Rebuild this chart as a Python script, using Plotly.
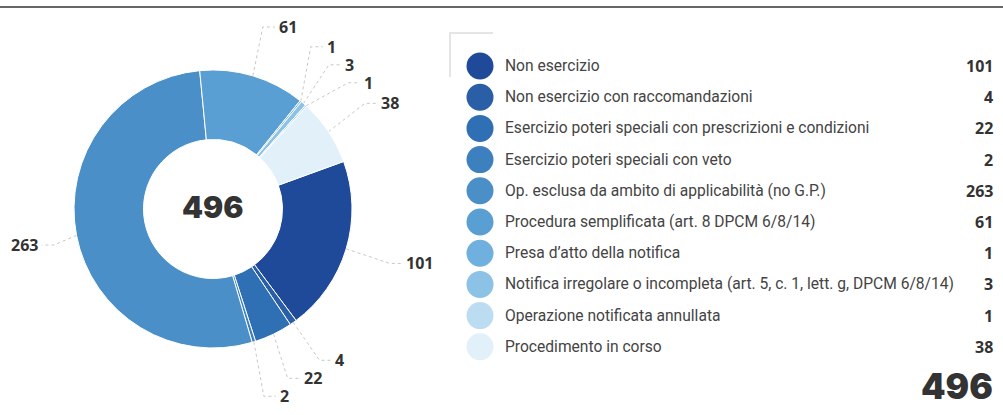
import math
import plotly.graph_objects as go

# ---------------- data ----------------
categories = [
    "Non esercizio",
    "Non esercizio con raccomandazioni",
    "Esercizio poteri speciali con prescrizioni e condizioni",
    "Esercizio poteri speciali con veto",
    "Op. esclusa da ambito di applicabilità (no G.P.)",
    "Procedura semplificata (art. 8 DPCM 6/8/14)",
    "Presa d’atto della notifica",
    "Notifica irregolare o incompleta (art. 5, c. 1, lett. g, DPCM 6/8/14)",
    "Operazione notificata annullata",
    "Procedimento in corso",
]
values = [101, 4, 22, 2, 263, 61, 1, 3, 1, 38]
colors = ["#1f4a99", "#2a5fa8", "#2e70b3", "#3d80bf", "#4a8fc8",
          "#5a9fd3", "#6fb0de", "#8cc2e6", "#bcdcf1", "#e2f0fa"]

# ---------------- layout constants (pixels) ----------------
W, H = 1003, 415
CX, CY, R = 213, 209, 139
ROT = 70          # start angle of first slice, clockwise from 12 o'clock
RY = 190          # radius used for the ideal label height
RX = 185          # radius of the circle the connector elbows lie on
GAP = 18          # min vertical distance between labels
ROW0, ROWSTEP = 66, 31.2
TEXT_FONT = "Roboto"
NUM_FONT = "Open Sans"
HEAVY_FONT = "Inter"

total = sum(values)

fig = go.Figure()

fig.add_trace(go.Pie(
    values=values, labels=categories, sort=False, direction="clockwise",
    rotation=ROT, hole=0.5, textinfo="none", hoverinfo="label+value",
    marker=dict(colors=colors, line=dict(color="white", width=1)),
    domain=dict(x=[(CX - R) / W, (CX + R) / W], y=[1 - (CY + R) / H, 1 - (CY - R) / H]),
    showlegend=False,
))

# ---------- outside labels with connectors (computed from values) ----------
mids = []
cum = 0
for v in values:
    mids.append(math.radians(ROT + (cum + v / 2) / total * 360))
    cum += v


def distribute(items, gap, ymin, ymax):
    items = sorted(items, key=lambda t: t[1])
    cl = [{"m": [i], "ideal": [y], "top": y} for i, y in items]
    changed = True
    while changed:
        changed = False
        for k in range(len(cl) - 1):
            a, b = cl[k], cl[k + 1]
            a_bottom = a["top"] + gap * (len(a["m"]) - 1)
            if b["top"] < a_bottom + gap:
                m = a["m"] + b["m"]
                ideal = a["ideal"] + b["ideal"]
                n = len(m)
                top = sum(ideal[j] - gap * j for j in range(n)) / n
                top = max(ymin, min(top, ymax - gap * (n - 1)))
                cl[k] = {"m": m, "ideal": ideal, "top": top}
                del cl[k + 1]
                changed = True
                break
    pos = {}
    for c in cl:
        top = max(ymin, min(c["top"], ymax - gap * (len(c["m"]) - 1)))
        for j, idx in enumerate(c["m"]):
            pos[idx] = top + gap * j
    return pos


right = [(i, CY - RY * math.cos(a)) for i, a in enumerate(mids) if math.sin(a) >= 0]
left = [(i, CY - RY * math.cos(a)) for i, a in enumerate(mids) if math.sin(a) < 0]
ypos = {}
ypos.update(distribute(right, GAP, 22, 398))
ypos.update(distribute(left, GAP, 22, 398))

annotations = []
for i, a in enumerate(mids):
    side = 1 if math.sin(a) >= 0 else -1
    y = ypos[i]
    dy = y - CY
    xo = math.sqrt(max(RX ** 2 - dy ** 2, 0))
    xo = max(xo, R * abs(math.sin(a)) + 10)
    ex = CX + side * xo
    if side < 0:
        ex = max(ex, 54)        # keep the left label inside the canvas
    sx = CX + R * math.sin(a)
    sy = CY - R * math.cos(a)
    tx = ex + side * 14
    fig.add_trace(go.Scatter(
        x=[sx, ex, tx - side * 2], y=[sy, y, y], mode="lines", xaxis="x2", yaxis="y2",
        line=dict(color="#c8c8c8", width=1, dash="dot"), hoverinfo="skip", showlegend=False,
    ))
    annotations.append(dict(
        x=tx, y=y, xref="x2", yref="y2", text=str(values[i]), showarrow=False,
        xanchor="left" if side > 0 else "right", yanchor="middle",
        font=dict(family=NUM_FONT, size=16, color="#333333", weight="bold"),
    ))

# ---------------- custom legend ----------------
rows = [ROW0 + ROWSTEP * k for k in range(len(categories))]
fig.add_trace(go.Scatter(
    x=[480] * len(categories), y=rows, mode="markers", xaxis="x2", yaxis="y2",
    marker=dict(size=27, color=colors, line=dict(width=0)),
    hovertext=categories, hoverinfo="text", showlegend=False,
))
for k, (cat, v) in enumerate(zip(categories, values)):
    annotations.append(dict(
        x=503, y=rows[k], xref="x2", yref="y2", text=cat, showarrow=False,
        xanchor="left", yanchor="middle",
        font=dict(family=TEXT_FONT, size=15.6, color="#444444", weight=400),
    ))
    annotations.append(dict(
        x=995, y=rows[k], xref="x2", yref="y2", text=str(v), showarrow=False,
        xanchor="right", yanchor="middle",
        font=dict(family=NUM_FONT, size=16, color="#333333", weight="bold"),
    ))

# totals
annotations.append(dict(
    x=CX, y=CY - 2, xref="x2", yref="y2", text=str(total), showarrow=False,
    xanchor="center", yanchor="middle",
    font=dict(family=HEAVY_FONT, size=30, color="#333333", weight=900),
))
annotations.append(dict(
    x=995, y=386, xref="x2", yref="y2", text=str(total), showarrow=False,
    xanchor="right", yanchor="middle",
    font=dict(family=HEAVY_FONT, size=35, color="#333333", weight=900),
))

shapes = [
    dict(type="line", xref="paper", yref="paper", x0=0, x1=1, y0=1 - 7 / H, y1=1 - 7 / H,
         line=dict(color="#333333", width=1.5)),
    dict(type="path", xref="x2", yref="y2", path="M 450 77 L 450 33 L 493 33",
         line=dict(color="#dddddd", width=1.5)),
]

fig.update_layout(
    width=W, height=H, margin=dict(l=0, r=0, t=0, b=0),
    paper_bgcolor="white", plot_bgcolor="rgba(0,0,0,0)",
    xaxis2=dict(domain=[0, 1], range=[0, W], visible=False, fixedrange=True, anchor="y2"),
    yaxis2=dict(domain=[0, 1], range=[H, 0], visible=False, fixedrange=True, anchor="x2"),
    annotations=annotations, shapes=shapes, showlegend=False,
)

fig.write_html(
    "out.html",
    config={"displayModeBar": False},
    post_script="document.body.style.margin='0px';document.body.style.overflow='hidden';",
)
